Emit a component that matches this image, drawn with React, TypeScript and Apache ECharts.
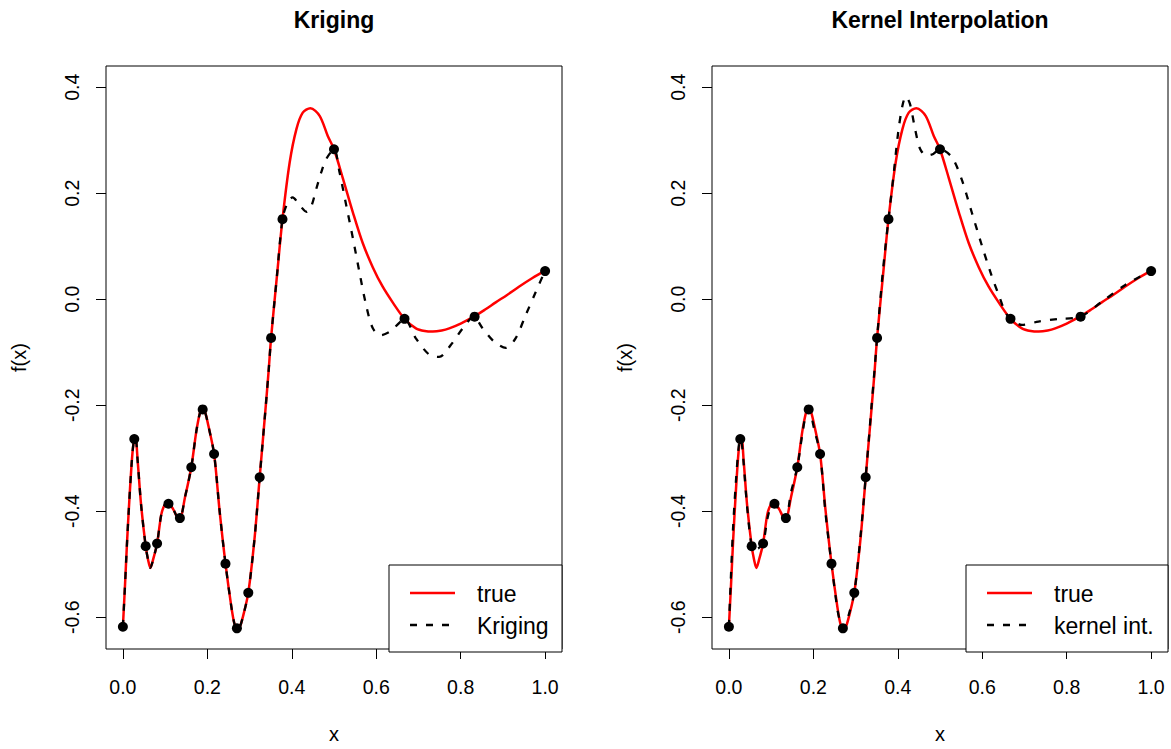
import React, { useEffect, useRef } from "react";
import * as echarts from "echarts";

// Design (observed) points
const designX = [0, 0.027, 0.054, 0.081, 0.108, 0.135, 0.162, 0.189, 0.216, 0.243, 0.27, 0.297, 0.324, 0.351, 0.378, 0.5, 0.667, 0.833, 1.0];
const designY = [-0.618, -0.264, -0.466, -0.461, -0.386, -0.413, -0.317, -0.208, -0.292, -0.499, -0.621, -0.554, -0.336, -0.073, 0.151, 0.283, -0.037, -0.033, 0.053];

// True function
const trueX = [0, 0.005, 0.010, 0.017, 0.023, 0.027, 0.030, 0.035, 0.043, 0.054, 0.060, 0.065, 0.072, 0.081, 0.091, 0.099, 0.106, 0.119, 0.128, 0.135, 0.147, 0.162, 0.174, 0.183, 0.189, 0.195, 0.202, 0.216, 0.229, 0.243, 0.257, 0.264, 0.270, 0.277, 0.284, 0.297, 0.312, 0.324, 0.338, 0.345, 0.351, 0.365, 0.378, 0.395, 0.411, 0.426, 0.444, 0.466, 0.485, 0.500, 0.521, 0.545, 0.568, 0.592, 0.615, 0.639, 0.667, 0.694, 0.715, 0.734, 0.755, 0.773, 0.800, 0.831, 0.857, 0.883, 0.910, 0.938, 0.970, 1.000];
const trueY = [-0.618, -0.54, -0.456, -0.356, -0.287, -0.264, -0.262, -0.305, -0.387, -0.466, -0.493, -0.507, -0.49, -0.461, -0.406, -0.388, -0.384, -0.396, -0.41, -0.413, -0.374, -0.317, -0.249, -0.213, -0.206, -0.214, -0.237, -0.292, -0.399, -0.499, -0.581, -0.612, -0.623, -0.618, -0.6, -0.554, -0.45, -0.336, -0.205, -0.137, -0.073, 0.045, 0.151, 0.258, 0.321, 0.352, 0.3605, 0.346, 0.3085, 0.283, 0.228, 0.163, 0.106, 0.06, 0.024, -0.006, -0.037, -0.055, -0.06, -0.061, -0.059, -0.055, -0.046, -0.033, -0.02, -0.006, 0.008, 0.0235, 0.04, 0.054];

// Kriging predictor (black dashed, left panel)
const krigX = [0, 0.005, 0.010, 0.017, 0.023, 0.027, 0.030, 0.035, 0.043, 0.054, 0.060, 0.065, 0.072, 0.081, 0.091, 0.099, 0.106, 0.119, 0.128, 0.135, 0.147, 0.162, 0.174, 0.183, 0.189, 0.195, 0.202, 0.216, 0.229, 0.243, 0.257, 0.264, 0.270, 0.277, 0.284, 0.297, 0.312, 0.324, 0.338, 0.345, 0.351, 0.365, 0.378, 0.39, 0.402, 0.418, 0.435, 0.446, 0.458, 0.47, 0.482, 0.5, 0.513, 0.529, 0.545, 0.56, 0.576, 0.592, 0.611, 0.631, 0.648, 0.667, 0.694, 0.726, 0.749, 0.777, 0.805, 0.831, 0.852, 0.879, 0.907, 0.93, 0.954, 0.978, 1.0];
const krigY = [-0.618, -0.54, -0.456, -0.356, -0.287, -0.264, -0.262, -0.305, -0.387, -0.466, -0.493, -0.507, -0.49, -0.461, -0.406, -0.388, -0.384, -0.396, -0.41, -0.413, -0.374, -0.317, -0.249, -0.213, -0.206, -0.214, -0.237, -0.292, -0.399, -0.499, -0.581, -0.612, -0.623, -0.618, -0.6, -0.554, -0.45, -0.336, -0.205, -0.137, -0.073, 0.045, 0.151, 0.182, 0.192, 0.178, 0.165, 0.175, 0.208, 0.24, 0.265, 0.283, 0.24, 0.177, 0.114, 0.052, -0.011, -0.055, -0.068, -0.062, -0.05, -0.037, -0.074, -0.105, -0.109, -0.086, -0.055, -0.033, -0.055, -0.08, -0.092, -0.074, -0.03, 0.014, 0.054];

// Kernel interpolation predictor (black dashed, right panel)
const kernX = [0, 0.005, 0.010, 0.017, 0.023, 0.027, 0.030, 0.035, 0.043, 0.054, 0.062, 0.070, 0.081, 0.091, 0.099, 0.106, 0.119, 0.128, 0.135, 0.147, 0.162, 0.174, 0.183, 0.189, 0.195, 0.202, 0.216, 0.229, 0.243, 0.257, 0.264, 0.270, 0.277, 0.284, 0.297, 0.312, 0.324, 0.338, 0.345, 0.351, 0.365, 0.378, 0.389, 0.401, 0.411, 0.419, 0.429, 0.441, 0.453, 0.468, 0.484, 0.500, 0.528, 0.551, 0.575, 0.599, 0.622, 0.642, 0.654, 0.667, 0.694, 0.733, 0.780, 0.832, 0.883, 0.938, 1.000];
const kernY = [-0.618, -0.52, -0.43, -0.34, -0.28, -0.264, -0.268, -0.31, -0.39, -0.466, -0.472, -0.47, -0.461, -0.415, -0.392, -0.386, -0.398, -0.41, -0.413, -0.365, -0.317, -0.254, -0.215, -0.208, -0.22, -0.245, -0.292, -0.405, -0.499, -0.585, -0.61, -0.621, -0.612, -0.595, -0.554, -0.445, -0.336, -0.2, -0.133, -0.073, 0.055, 0.151, 0.227, 0.315, 0.365, 0.3825, 0.368, 0.321, 0.2835, 0.271, 0.274, 0.283, 0.268, 0.227, 0.1645, 0.1017, 0.045, 0.0015, -0.0235, -0.037, -0.0486, -0.0423, -0.0373, -0.033, -0.005, 0.0265, 0.054];

const xTicks = [0, 0.2, 0.4, 0.6, 0.8, 1.0];
const yTicks = [-0.6, -0.4, -0.2, 0, 0.2, 0.4];
const panelTitles = ["Kriging", "Kernel Interpolation"];
const legendNames = [["true", "Kriging"], ["true", "kernel int."]];

const FONT = "'Liberation Sans', Arial, Helvetica, sans-serif";
const pairs = (xs: number[], ys: number[]) => xs.map((x, i) => [x, ys[i]]);

export default function App() {
  const ref = useRef<HTMLDivElement>(null);
  useEffect(() => {
    if (!ref.current) return;
    const chart = echarts.init(ref.current, null, { renderer: "svg" });
    const grids = [
      { left: 106, top: 66, width: 456, height: 586 },
      { left: 712, top: 66, width: 456, height: 586 },
    ];
    const xAxis = grids.map((_, i) => ({
      type: "value",
      gridIndex: i,
      position: "bottom",
      min: -0.04,
      max: 1.04,
      name: "x",
      nameLocation: "middle",
      nameGap: 75,
      nameTextStyle: { fontFamily: FONT, fontSize: 20, color: "#000" },
      axisLine: { show: false, onZero: false },
      axisTick: { show: true, length: 10, customValues: xTicks, lineStyle: { color: "#000", width: 1 } },
      axisLabel: {
        customValues: xTicks,
        formatter: (v: number) => v.toFixed(1),
        fontFamily: FONT,
        fontSize: 19.5,
        color: "#000",
        margin: 28,
      },
      splitLine: { show: false },
    }));
    const yAxis = grids.map((_, i) => ({
      type: "value",
      gridIndex: i,
      position: "left",
      min: -0.66,
      max: 0.44,
      name: "f(x)",
      nameLocation: "middle",
      nameGap: 77,
      nameRotate: 90,
      nameTextStyle: { fontFamily: FONT, fontSize: 20, color: "#000" },
      axisLine: { show: false, onZero: false },
      axisTick: { show: true, length: 10, customValues: yTicks, lineStyle: { color: "#000", width: 1 } },
      axisLabel: {
        customValues: yTicks,
        rotate: 90,
        formatter: (v: number) => v.toFixed(1),
        fontFamily: FONT,
        fontSize: 19.5,
        color: "#000",
        margin: 24,
      },
      splitLine: { show: false },
    }));
    const predictors = [pairs(krigX, krigY), pairs(kernX, kernY)];
    const series: any[] = [];
    grids.forEach((_, i) => {
      series.push({
        type: "line",
        name: legendNames[i][0],
        xAxisIndex: i,
        yAxisIndex: i,
        data: pairs(trueX, trueY),
        smooth: 0.3,
        showSymbol: false,
        lineStyle: { color: "#ff0000", width: 2.5 },
        z: 2,
      });
      series.push({
        type: "line",
        name: legendNames[i][1],
        xAxisIndex: i,
        yAxisIndex: i,
        data: predictors[i],
        smooth: 0.3,
        showSymbol: false,
        lineStyle: { color: "#000", width: 2.3, type: [7, 9] },
        z: 3,
      });
      series.push({
        type: "scatter",
        name: "design",
        xAxisIndex: i,
        yAxisIndex: i,
        data: pairs(designX, designY),
        symbol: "circle",
        symbolSize: 10,
        itemStyle: { color: "#000", opacity: 1 },
        z: 4,
      });
    });

    const graphic: any[] = [];
    grids.forEach((g, i) => {
      graphic.push({
        type: "text",
        x: g.left + g.width / 2,
        y: 20,
        style: {
          text: panelTitles[i],
          font: `bold 23px ${FONT}`,
          fill: "#000",
          textAlign: "center",
          textVerticalAlign: "middle",
        },
      });
      const lw = i === 0 ? 173 : 202;
      const lx = g.left + g.width - lw;
      const ly = 565;
      graphic.push({
        type: "rect",
        shape: { x: lx, y: ly, width: lw, height: 652 - ly },
        style: { fill: "#fff", stroke: "#000", lineWidth: 1 },
        z: 10,
      });
      graphic.push({
        type: "line",
        shape: { x1: lx + 21, y1: 593, x2: lx + 66, y2: 593 },
        style: { stroke: "#ff0000", lineWidth: 2.5 },
        z: 11,
      });
      graphic.push({
        type: "line",
        shape: { x1: lx + 21, y1: 625, x2: lx + 66, y2: 625 },
        style: { stroke: "#000", lineWidth: 2.3, lineDash: [7, 9] },
        z: 11,
      });
      legendNames[i].forEach((nm, k) => {
        graphic.push({
          type: "text",
          x: lx + 88,
          y: k === 0 ? 594 : 626,
          style: {
            text: nm,
            font: `23px ${FONT}`,
            fill: "#000",
            textAlign: "left",
            textVerticalAlign: "middle",
          },
          z: 11,
        });
      });
    });

    chart.setOption({
      animation: false,
      backgroundColor: "#fff",
      grid: grids.map((g) => ({ ...g, show: true, borderColor: "#000", borderWidth: 1, backgroundColor: "transparent" })),
      xAxis,
      yAxis,
      series,
      graphic,
    });
    return () => chart.dispose();
  }, []);
  return <div ref={ref} style={{ position: "fixed", left: 0, top: 0, width: 1171, height: 749, background: "#fff" }} />;
}
